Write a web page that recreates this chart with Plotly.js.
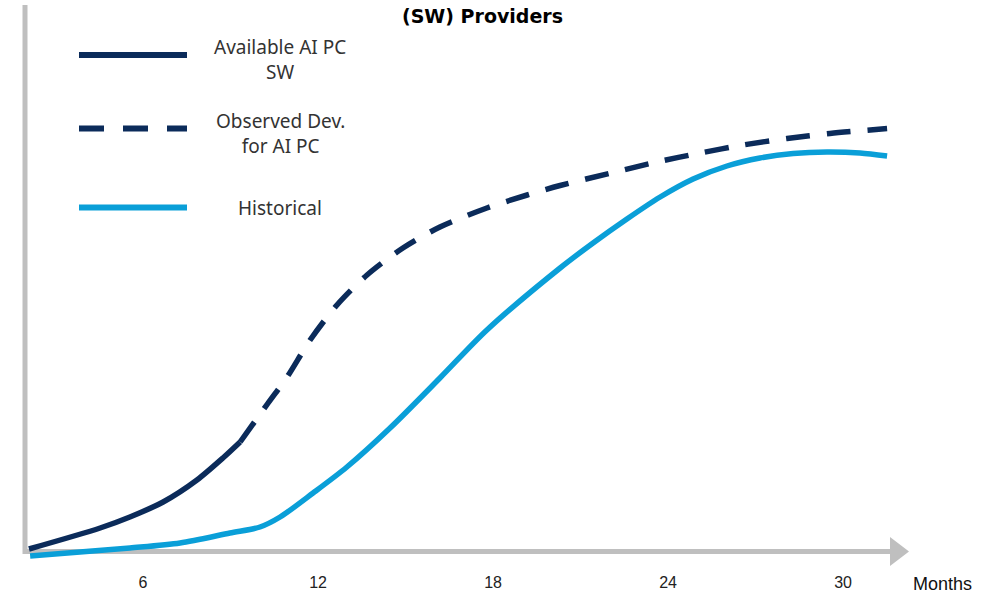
<!DOCTYPE html>
<html>
<head>
<meta charset="utf-8">
<script src="https://cdn.plot.ly/plotly-3.0.1.min.js"></script>
<style>html,body{margin:0;padding:0;background:#fff;}#chart{width:1005px;height:593px;}</style>
</head>
<body>
<div id="chart"></div>
<script>
// ---- data (months on x, relative adoption level on y) ----
const monthsAvailable = [2.09, 4.53, 5.55, 6.69, 7.85, 8.74, 9.33];
const availableSW     = [0.2, 4.4, 6.6, 9.6, 14.0, 18.4, 21.6];

const monthsObserved  = [9.33, 10.29, 10.94, 11.73, 12.65, 13.68, 14.91, 16.18, 17.79, 19.17, 20.30, 22.11, 23.62, 25.10, 26.57, 28.08, 29.55, 31.51];
const observedDev     = [21.6, 29.4, 34.6, 42.0, 49.0, 55.0, 60.4, 64.6, 68.4, 71.0, 72.9, 75.5, 77.6, 79.4, 81.0, 82.3, 83.3, 84.3];

const monthsHistorical = [2.13, 5.55, 7.27, 8.98, 10.01, 10.70, 11.83, 12.99, 14.47, 16.18, 17.79, 20.30, 21.43, 22.59, 23.73, 24.86, 26.02, 27.15, 28.29, 29.45, 30.58, 31.51];
const historical       = [-1.2, 0.4, 1.4, 3.4, 4.6, 6.6, 11.4, 16.6, 24.4, 34.4, 44.0, 56.4, 61.4, 66.2, 70.6, 74.2, 76.8, 78.4, 79.3, 79.6, 79.4, 78.8];

const tickMonths = [6, 12, 18, 24, 30];
const tickLabels = ['6', '12', '18', '24', '30'];

const legendNames = ['Available AI PC<br>SW', 'Observed Dev.<br>for AI PC', 'Historical'];
const titleText = '<b>(SW) Providers</b>';
const xAxisLabel = 'Months';

// ---- styles ----
const NAVY = '#0b2b5a';
const BLUE = '#0a9fd8';
const GREY = '#bfbfbf';

// layout geometry helpers (pixels -> paper)
const W = 1005, H = 593;
const L = 25, R = 115, T = 5, B = 33;
const PW = W - L - R, PH = H - T - B;
const px = v => (v - L) / PW;
const py = v => (H - B - v) / PH;

const traces = [
  {x: monthsAvailable, y: availableSW, mode: 'lines', name: 'Available AI PC SW',
   line: {color: NAVY, width: 5.5, shape: 'spline', smoothing: 0.8}},
  {x: monthsObserved, y: observedDev, mode: 'lines', name: 'Observed Dev. for AI PC',
   line: {color: NAVY, width: 5.5, shape: 'spline', smoothing: 0.8, dash: '24px,17px'}},
  {x: monthsHistorical, y: historical, mode: 'lines', name: 'Historical',
   line: {color: BLUE, width: 5.5, shape: 'spline', smoothing: 0.8}}
];

const shapes = [
  // y axis
  {type: 'line', xref: 'paper', yref: 'paper', x0: px(25), x1: px(25), y0: py(554), y1: py(5),
   line: {color: GREY, width: 5}, layer: 'below'},
  // x axis
  {type: 'line', xref: 'paper', yref: 'paper', x0: px(23), x1: px(892), y0: py(551.5), y1: py(551.5),
   line: {color: GREY, width: 5}, layer: 'below'},
  // arrow head
  {type: 'path', xref: 'paper', yref: 'paper',
   path: `M ${px(890)},${py(537)} L ${px(909)},${py(551.5)} L ${px(890)},${py(566)} Z`,
   fillcolor: GREY, line: {width: 0}, layer: 'below'},
  // legend samples
  {type: 'line', xref: 'paper', yref: 'paper', x0: px(79), x1: px(187), y0: py(55), y1: py(55),
   line: {color: NAVY, width: 6}},
  {type: 'line', xref: 'paper', yref: 'paper', x0: px(79), x1: px(187), y0: py(128.5), y1: py(128.5),
   line: {color: NAVY, width: 6, dash: '25px,19px'}},
  {type: 'line', xref: 'paper', yref: 'paper', x0: px(79), x1: px(187), y0: py(207.5), y1: py(207.5),
   line: {color: BLUE, width: 6}}
];

const legendFont = {family: 'Noto Sans, Lato, sans-serif', size: 19, color: '#333333'};
const annotations = [
  {xref: 'paper', yref: 'paper', x: px(280), y: py(59.5), text: legendNames[0], showarrow: false,
   xanchor: 'center', yanchor: 'middle', align: 'center', font: legendFont},
  {xref: 'paper', yref: 'paper', x: px(280), y: py(133.5), text: legendNames[1], showarrow: false,
   xanchor: 'center', yanchor: 'middle', align: 'center', font: legendFont},
  {xref: 'paper', yref: 'paper', x: px(280), y: py(208), text: legendNames[2], showarrow: false,
   xanchor: 'center', yanchor: 'middle', align: 'center', font: legendFont},
  {xref: 'paper', yref: 'paper', x: px(482), y: py(16), text: titleText, showarrow: false,
   xanchor: 'center', yanchor: 'middle', font: {family: 'DejaVu Sans, sans-serif', size: 19, color: '#000'}},
  {xref: 'paper', yref: 'paper', x: px(942), y: py(584), text: xAxisLabel, showarrow: false,
   xanchor: 'center', yanchor: 'middle', font: {family: 'Liberation Sans, Arial, sans-serif', size: 18, color: '#111'}}
];

const layout = {
  width: W, height: H,
  margin: {l: L, r: R, t: T, b: B, pad: 0},
  paper_bgcolor: '#ffffff', plot_bgcolor: '#ffffff',
  showlegend: false,
  xaxis: {range: [1.954, 31.61], tickvals: tickMonths, ticktext: tickLabels,
          showgrid: false, zeroline: false, showline: false,
          ticks: 'outside', ticklen: 8, tickcolor: 'rgba(0,0,0,0)',
          tickfont: {family: 'Liberation Sans, Arial, sans-serif', size: 16, color: '#222'}},
  yaxis: {range: [-2, 109], showgrid: false, zeroline: false, showline: false,
          showticklabels: false, ticks: ''},
  shapes: shapes,
  annotations: annotations
};

Plotly.newPlot('chart', traces, layout, {displayModeBar: false, staticPlot: true});
</script>
</body>
</html>
